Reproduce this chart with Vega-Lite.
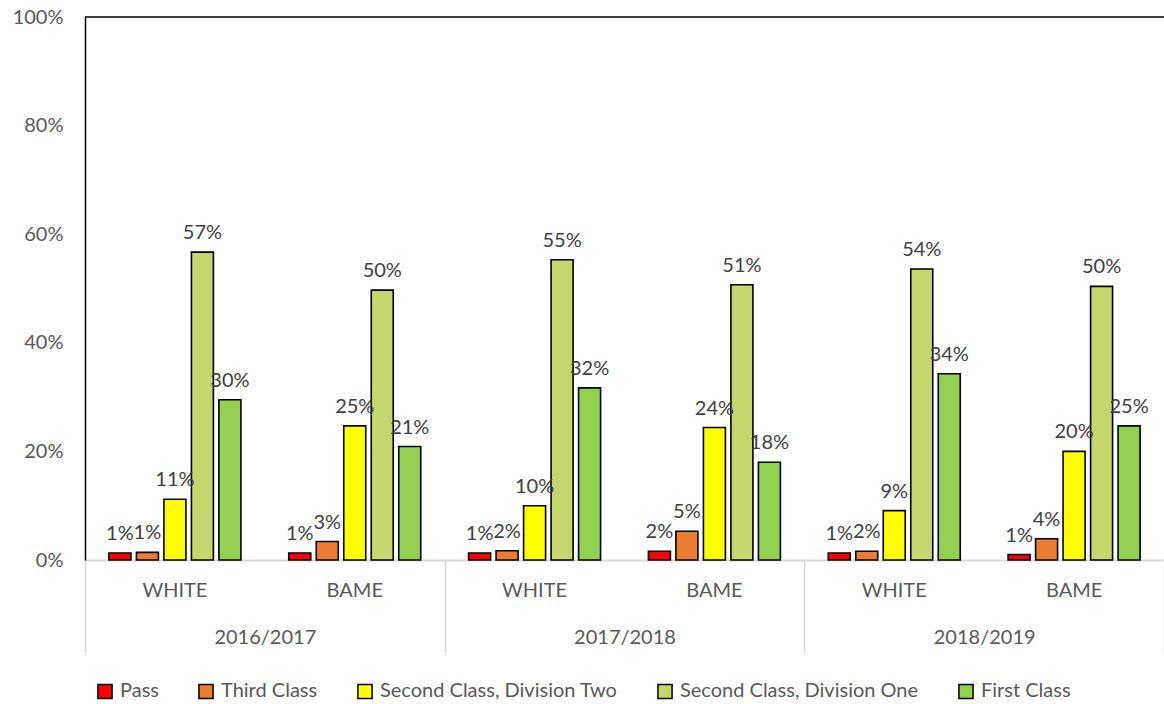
{
  "$schema": "https://vega.github.io/schema/vega-lite/v6.json",
  "autosize": "none",
  "width": 1079,
  "height": 543,
  "padding": {"left": 85, "top": 17, "right": 0, "bottom": 144},
  "background": "white",
  "config": {"view": {"stroke": null}, "font": "Lato"},
  "data": {"values": [
    {"Year": "2016/2017", "Cohort": "2016/2017 WHITE", "Class": "Pass", "Value": 0.013},
    {"Year": "2016/2017", "Cohort": "2016/2017 WHITE", "Class": "Third Class", "Value": 0.014},
    {"Year": "2016/2017", "Cohort": "2016/2017 WHITE", "Class": "Second Class, Division Two", "Value": 0.112},
    {"Year": "2016/2017", "Cohort": "2016/2017 WHITE", "Class": "Second Class, Division One", "Value": 0.567},
    {"Year": "2016/2017", "Cohort": "2016/2017 WHITE", "Class": "First Class", "Value": 0.295},
    {"Year": "2016/2017", "Cohort": "2016/2017 BAME", "Class": "Pass", "Value": 0.013},
    {"Year": "2016/2017", "Cohort": "2016/2017 BAME", "Class": "Third Class", "Value": 0.034},
    {"Year": "2016/2017", "Cohort": "2016/2017 BAME", "Class": "Second Class, Division Two", "Value": 0.247},
    {"Year": "2016/2017", "Cohort": "2016/2017 BAME", "Class": "Second Class, Division One", "Value": 0.497},
    {"Year": "2016/2017", "Cohort": "2016/2017 BAME", "Class": "First Class", "Value": 0.209},
    {"Year": "2017/2018", "Cohort": "2017/2018 WHITE", "Class": "Pass", "Value": 0.013},
    {"Year": "2017/2018", "Cohort": "2017/2018 WHITE", "Class": "Third Class", "Value": 0.017},
    {"Year": "2017/2018", "Cohort": "2017/2018 WHITE", "Class": "Second Class, Division Two", "Value": 0.100},
    {"Year": "2017/2018", "Cohort": "2017/2018 WHITE", "Class": "Second Class, Division One", "Value": 0.553},
    {"Year": "2017/2018", "Cohort": "2017/2018 WHITE", "Class": "First Class", "Value": 0.317},
    {"Year": "2017/2018", "Cohort": "2017/2018 BAME", "Class": "Pass", "Value": 0.016},
    {"Year": "2017/2018", "Cohort": "2017/2018 BAME", "Class": "Third Class", "Value": 0.053},
    {"Year": "2017/2018", "Cohort": "2017/2018 BAME", "Class": "Second Class, Division Two", "Value": 0.244},
    {"Year": "2017/2018", "Cohort": "2017/2018 BAME", "Class": "Second Class, Division One", "Value": 0.507},
    {"Year": "2017/2018", "Cohort": "2017/2018 BAME", "Class": "First Class", "Value": 0.180},
    {"Year": "2018/2019", "Cohort": "2018/2019 WHITE", "Class": "Pass", "Value": 0.013},
    {"Year": "2018/2019", "Cohort": "2018/2019 WHITE", "Class": "Third Class", "Value": 0.016},
    {"Year": "2018/2019", "Cohort": "2018/2019 WHITE", "Class": "Second Class, Division Two", "Value": 0.091},
    {"Year": "2018/2019", "Cohort": "2018/2019 WHITE", "Class": "Second Class, Division One", "Value": 0.536},
    {"Year": "2018/2019", "Cohort": "2018/2019 WHITE", "Class": "First Class", "Value": 0.343},
    {"Year": "2018/2019", "Cohort": "2018/2019 BAME", "Class": "Pass", "Value": 0.010},
    {"Year": "2018/2019", "Cohort": "2018/2019 BAME", "Class": "Third Class", "Value": 0.039},
    {"Year": "2018/2019", "Cohort": "2018/2019 BAME", "Class": "Second Class, Division Two", "Value": 0.200},
    {"Year": "2018/2019", "Cohort": "2018/2019 BAME", "Class": "Second Class, Division One", "Value": 0.504},
    {"Year": "2018/2019", "Cohort": "2018/2019 BAME", "Class": "First Class", "Value": 0.247}
  ]},
  "layer": [
    {
      "encoding": {
        "x": {"field": "Cohort", "type": "nominal", "sort": null,
          "scale": {"paddingInner": 0, "paddingOuter": 0},
          "axis": {"orient": "bottom", "title": null, "labelAngle": 0, "ticks": false,
            "domainColor": "#d9d9d9", "domainWidth": 2,
            "labelExpr": "split(datum.label, ' ')[1]",
            "labelFontSize": 20, "labelColor": "#595959", "labelPadding": 20}},
        "xOffset": {"field": "Class", "type": "nominal", "sort": null,
          "scale": {"domain": ["Pass", "Third Class", "Second Class, Division Two", "Second Class, Division One", "First Class"],
            "paddingInner": 0.2, "paddingOuter": 0.87}},
        "y": {"field": "Value", "type": "quantitative",
          "scale": {"domain": [0, 1], "nice": false},
          "axis": {"title": null, "format": ".0%", "values": [0, 0.2, 0.4, 0.6, 0.8, 1],
            "grid": false, "ticks": false, "domainColor": "black", "domainWidth": 1.5,
            "labelFontSize": 20, "labelColor": "#595959", "labelPadding": 22}}
      },
      "layer": [
        {
          "mark": {"type": "bar", "stroke": "black", "strokeWidth": 1.6},
          "encoding": {
            "color": {"field": "Class", "type": "nominal",
              "scale": {"domain": ["Pass", "Third Class", "Second Class, Division Two", "Second Class, Division One", "First Class"],
                "range": ["#FF0000", "#ED7D31", "#FFFF00", "#C4D66C", "#92D050"]},
              "legend": {"title": null, "orient": "none", "legendX": 10, "legendY": 664,
                "direction": "horizontal", "symbolType": "square", "symbolSize": 200,
                "symbolStrokeColor": "black", "symbolStrokeWidth": 1.5, "symbolOpacity": 1,
                "labelFontSize": 20, "labelColor": "#595959", "labelOffset": 5, "labelLimit": 0,
                "columnPadding": 36}}
          }
        },
        {
          "mark": {"type": "text", "baseline": "bottom", "dy": -9, "fontSize": 20, "color": "#404040"},
          "encoding": {"text": {"field": "Value", "type": "quantitative", "format": ".0%"}}
        }
      ]
    },
    {
      "mark": {"type": "rule", "opacity": 0},
      "encoding": {
        "x": {"field": "Year", "type": "nominal", "sort": null,
          "scale": {"paddingInner": 0, "paddingOuter": 0},
          "axis": {"orient": "bottom", "title": null, "labelAngle": 0, "domain": false,
            "ticks": true, "tickBand": "extent", "tickSize": 93, "tickColor": "#d9d9d9", "tickWidth": 1.5,
            "labelFontSize": 20, "labelColor": "#595959", "labelPadding": -26}}
      }
    },
    {
      "data": {"values": [{}]},
      "mark": {"type": "rule", "color": "black", "strokeWidth": 1.5},
      "encoding": {"y": {"datum": 1, "type": "quantitative"}}
    }
  ],
  "resolve": {"scale": {"x": "independent"}, "axis": {"x": "independent"}}
}
